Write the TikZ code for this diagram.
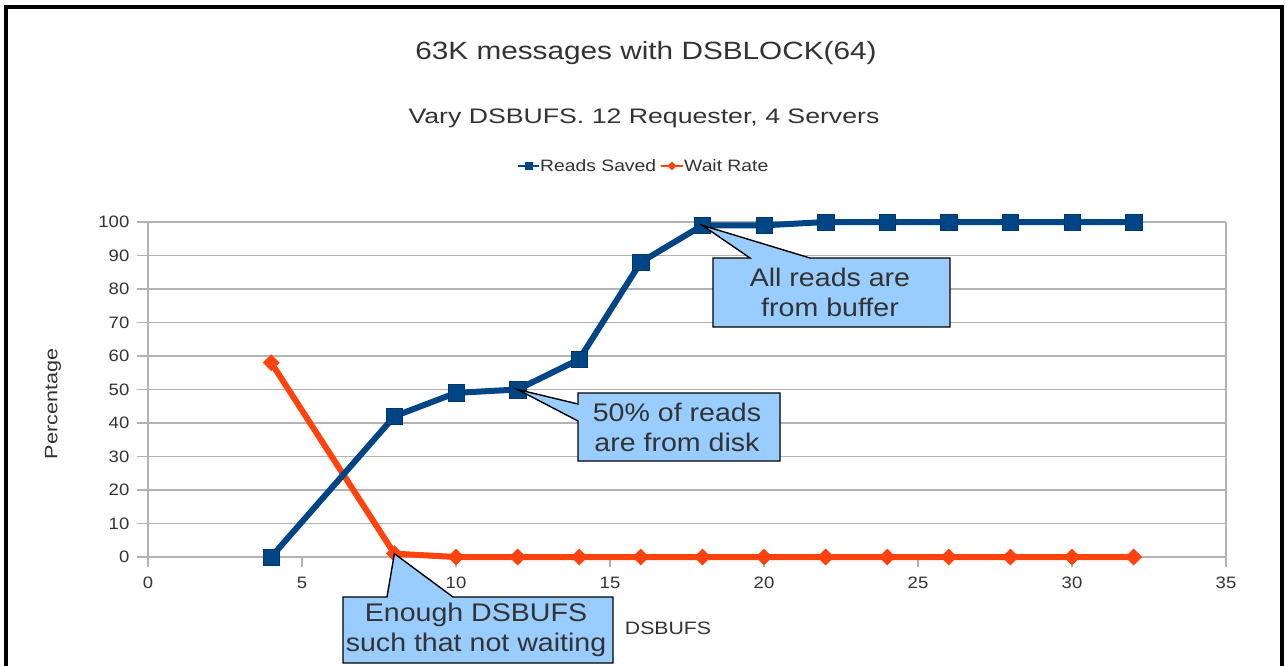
\documentclass[tikz,border=0pt]{standalone}
\usepackage{fontspec}
\setmainfont{Liberation Sans}
\usetikzlibrary{calc,shapes.geometric}
\definecolor{seriesblue}{HTML}{004586}
\definecolor{seriesorange}{HTML}{FF420E}
\definecolor{gridgray}{HTML}{B3B3B3}
\definecolor{inktext}{HTML}{333333}
\definecolor{calloutfill}{HTML}{99CCFF}
\tikzset{
  gridline/.style={draw=gridgray, line width=1.2pt},
  ticklabel/.style={text=inktext, font=\fontsize{16.5}{16}\selectfont, xscale=1.12, inner sep=0pt},
  legendtext/.style={anchor=west, text=inktext, font=\fontsize{16.5}{16}\selectfont, xscale=1.17, inner sep=0pt},
  bluemark/.style={fill=seriesblue, draw=seriesblue!80!black, line width=0.5pt, minimum size=16.5pt, inner sep=0pt, rectangle},
  orangemark/.style={fill=seriesorange, draw=none, minimum size=17pt, inner sep=0pt, diamond},
  blueline/.style={draw=seriesblue, line width=6pt, line join=round},
  orangeline/.style={draw=seriesorange, line width=6pt, line join=round},
  callout/.style={fill=calloutfill, draw=black, line width=1.4pt, line join=miter},
  callouttext/.style={text=inktext, font=\fontsize{25.5}{30}\selectfont, xscale=1.12, align=center, inner sep=0pt},
}
\begin{document}
\begin{tikzpicture}[x=1pt, y=-1pt]
\useasboundingbox (0,0) rectangle (1287,665);
\fill[white] (0,0) rectangle (1287,665);

% outer frame
\draw[black, line width=4.5pt, line cap=butt] (6,700) -- (6,7) -- (1282,7) -- (1282,700);

% titles and legend
\node[text=inktext, font=\fontsize{25}{24}\selectfont, xscale=1.19] (title) at (646,53) {63K messages with DSBLOCK(64)};
\node[text=inktext, font=\fontsize{21}{20}\selectfont, xscale=1.27] (subtitle) at (644,118) {Vary DSBUFS. 12 Requester, 4 Servers};

\coordinate (lgA) at (518,166);
\coordinate (lgB) at (539,166);
\draw[draw=seriesblue, line width=2.5pt] (lgA) -- (lgB);
\node[fill=seriesblue, minimum size=8pt, inner sep=0pt] (lgbm) at ($(lgA)!0.5!(lgB)$) {};
\node[legendtext] (lgbt) at (540,166) {Reads Saved};
\coordinate (lgC) at (661,166);
\coordinate (lgD) at (683,166);
\draw[draw=seriesorange, line width=2.5pt] (lgC) -- (lgD);
\node[diamond, fill=seriesorange, minimum size=9pt, inner sep=0pt] (lgom) at ($(lgC)!0.5!(lgD)$) {};
\node[legendtext] (lgot) at (684,166) {Wait Rate};

% axis titles
\node[rotate=90, text=inktext, font=\fontsize{18}{18}\selectfont, xscale=1.2] (ytitle) at (53,404) {Percentage};
\node[text=inktext, font=\fontsize{18}{18}\selectfont, xscale=1.18] (xtitle) at (668,628) {DSBUFS};

% plot area in data units
\begin{scope}[shift={(148,557)}, x=30.8pt, y=3.35pt]
  \foreach \v in {0,10,...,100} {
    \draw[gridline] (-0.35,\v) -- (35,\v);
    \node[ticklabel, anchor=east] at (-0.6,\v) {\v};
  }
  \draw[gridline] (0,100) -- (0,-3);
  \draw[gridline] (35,100) -- (35,-3);
  \foreach \u in {5,10,...,30} {
    \draw[gridline] (\u,0) -- (\u,-3);
  }
  \foreach \u in {0,5,...,35} {
    \node[ticklabel] at (\u,-7.8) {\u};
  }

  % Wait Rate series
  \draw[orangeline] (4,58) -- (8,1) -- (10,0) -- (12,0) -- (14,0) -- (16,0) -- (18,0) -- (20,0)
     -- (22,0) -- (24,0) -- (26,0) -- (28,0) -- (30,0) -- (32,0);
  \foreach \px/\py [count=\i] in {4/58,8/1,10/0,12/0,14/0,16/0,18/0,20/0,22/0,24/0,26/0,28/0,30/0,32/0}
    \node[orangemark] (w\i) at (\px,\py) {};

  % Reads Saved series
  \draw[blueline] (4,0) -- (8,42) -- (10,49) -- (12,50) -- (14,59) -- (16,88) -- (18,99) -- (20,99)
     -- (22,100) -- (24,100) -- (26,100) -- (28,100) -- (30,100) -- (32,100);
  \foreach \px/\py [count=\i] in {4/0,8/42,10/49,12/50,14/59,16/88,18/99,20/99,22/100,24/100,26/100,28/100,30/100,32/100}
    \node[bluemark] (r\i) at (\px,\py) {};
\end{scope}

% callout: all reads from buffer
\coordinate (tipA) at (r7.center);
\draw[callout] (713,258) -- (750,258) -- (tipA) -- (810,258) -- (950,258) -- (950,327) -- (713,327) -- cycle;
\node[callouttext] (noteA) at (830,292.5) {All reads are\\from buffer};

% callout: half of reads from disk
\coordinate (tipB) at (r4.center);
\draw[callout] (578,393) -- (780,393) -- (780,461) -- (578,461) -- (578,421) -- (tipB) -- (578,404) -- cycle;
\node[callouttext] (noteB) at (677,427) {50\% of reads\\are from disk};

% callout: enough buffers
\coordinate (tipC) at (w2.center);
\draw[callout] (343,597) -- (387,597) -- (tipC) -- (453,597) -- (613,597) -- (613,663) -- (343,663) -- cycle;
\node[callouttext] (noteC) at (476,630) {Enough DSBUFS\\such that not waiting};
\end{tikzpicture}
\end{document}
